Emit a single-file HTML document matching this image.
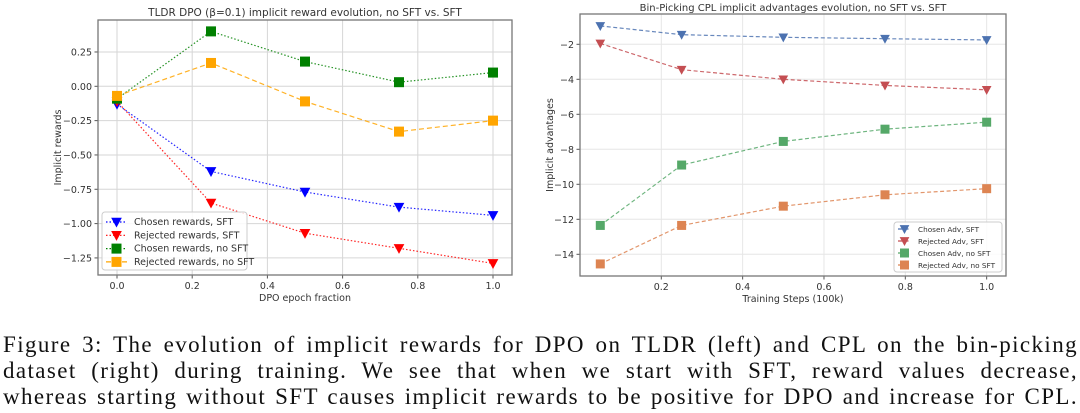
<!DOCTYPE html>
<html><head><meta charset="utf-8">
<style>
html,body{margin:0;padding:0;background:#fff;width:1080px;height:413px;overflow:hidden}
svg text{font-family:"DejaVu Sans","Liberation Sans",sans-serif;fill:#333}
.cap{position:absolute;left:3px;width:1075px;font-family:"Liberation Serif",serif;font-size:23px;letter-spacing:1.4px;color:#111;text-align:justify;text-align-last:justify;white-space:nowrap;line-height:26px}
</style></head><body>
<svg id="chart" width="1080" height="320" style="position:absolute;left:0;top:0"></svg>
<div class="cap" style="top:332px">Figure 3: The evolution of implicit rewards for DPO on TLDR (left) and CPL on the bin-picking</div>
<div class="cap" style="top:358px">dataset (right) during training. We see that when we start with SFT, reward values decrease,</div>
<div class="cap" style="top:384px">whereas starting without SFT causes implicit rewards to be positive for DPO and increase for CPL.</div>
<script>
const leftX=[0,0.25,0.5,0.75,1.0];
const leftChosenSFT=[-0.13,-0.62,-0.77,-0.88,-0.94];
const leftRejectedSFT=[-0.11,-0.85,-1.07,-1.18,-1.29];
const leftChosenNoSFT=[-0.09,0.40,0.18,0.03,0.10];
const leftRejectedNoSFT=[-0.07,0.17,-0.11,-0.33,-0.25];
const leftXTicks=[0.0,0.2,0.4,0.6,0.8,1.0];
const leftYTicks=[0.25,0.00,-0.25,-0.50,-0.75,-1.00,-1.25];
const rightX=[0.05,0.25,0.5,0.75,1.0];
const rightChosenSFT=[-0.95,-1.45,-1.6,-1.68,-1.75];
const rightRejectedSFT=[-1.95,-3.45,-4.0,-4.35,-4.6];
const rightChosenNoSFT=[-12.35,-8.9,-7.55,-6.85,-6.45];
const rightRejectedNoSFT=[-14.55,-12.35,-11.25,-10.6,-10.25];
const rightXTicks=[0.2,0.4,0.6,0.8,1.0];
const rightYTicks=[-2,-4,-6,-8,-10,-12,-14];

const svg=document.getElementById('chart');
const NS='http://www.w3.org/2000/svg';
function mk(tag,attrs,parent){const e=document.createElementNS(NS,tag);for(const k in attrs)e.setAttribute(k,attrs[k]);(parent||svg).appendChild(e);return e;}
function txt(x,y,s,size,anchor,parent){const t=mk('text',{x:x,y:y,'font-size':size,'text-anchor':anchor||'middle'},parent);t.textContent=s;return t;}
function marker(g,type,x,y,color,sz){
  if(type==='tri'){const m=mk('path',{d:`M${x-sz/2},${y-sz/2.4}L${x+sz/2},${y-sz/2.4}L${x},${y+sz/2}Z`,fill:color,stroke:color,'stroke-width':1},g);}
  else{const m=mk('rect',{x:x-sz/2,y:y-sz/2,width:sz,height:sz,fill:color,stroke:color,'stroke-width':1},g);}
}
function panel(cfg){
  const g=mk('g',{});
  
  
  const sx=v=>cfg.x0px+(v-cfg.x0)*cfg.kx;
  const sy=v=>cfg.y0px-(v-cfg.y0)*cfg.ky;
  const f=cfg.frame;
  mk('rect',{x:f[0],y:f[1],width:f[2]-f[0],height:f[3]-f[1],fill:'#fff'},g);
  cfg.xTicks.forEach(t=>{const X=sx(t);mk('line',{x1:X,x2:X,y1:f[1],y2:f[3],stroke:cfg.grid,'stroke-width':1},g);mk('line',{x1:X,x2:X,y1:f[3],y2:f[3]+3.5,stroke:'#555'},g);const l=txt(X,f[3]+14,cfg.xfmt(t),9.5,'middle',g);});
  cfg.yTicks.forEach(t=>{const Y=sy(t);mk('line',{x1:f[0],x2:f[2],y1:Y,y2:Y,stroke:cfg.grid,'stroke-width':1},g);mk('line',{x1:f[0]-3.5,x2:f[0],y1:Y,y2:Y,stroke:'#555'},g);const l=txt(f[0]-6,Y+3.5,cfg.yfmt(t),9.5,'end',g);});
  mk('rect',{x:f[0],y:f[1],width:f[2]-f[0],height:f[3]-f[1],fill:'none',stroke:'#777','stroke-width':1.3},g);
  cfg.series.forEach(s=>{
    const sg=mk('g',{},g);
    
    
    const pts=cfg.xs.map((x,i)=>sx(x)+','+sy(s.data[i])).join(' ');
    mk('polyline',{points:pts,fill:'none',stroke:s.color,'stroke-width':1.2,'stroke-dasharray':s.dash,opacity:0.85},sg);
    cfg.xs.forEach((x,i)=>marker(sg,s.m,sx(x),sy(s.data[i]),s.color,cfg.ms));
  });
  const t=txt((f[0]+f[2])/2,cfg.titleY,cfg.title,cfg.titleSize,'middle',g);
  const xl=txt((f[0]+f[2])/2,f[3]+26,cfg.xlabel,9.5,'middle',g);
  const yl=txt(0,0,cfg.ylabel,9.5,'middle',g);yl.setAttribute('transform',`translate(${cfg.ylabelX},${(f[1]+f[3])/2}) rotate(-90)`);
  const L=cfg.legend;
  const lg=mk('g',{},g);
  
  
  mk('rect',{x:L[0],y:L[1],width:L[2],height:L[3],rx:3,fill:'#fff','fill-opacity':0.85,stroke:'#ccc'},lg);
  cfg.series.forEach((s,i)=>{
    const y=L[1]+L[6]+i*L[4];
    const eg=mk('g',{},lg);
    
    
    mk('line',{x1:L[0]+4,x2:L[0]+L[7],y1:y,y2:y,stroke:s.color,'stroke-width':1.2,'stroke-dasharray':s.dash},eg);
    marker(eg,s.m,L[0]+4+(L[7]-4)/2,y,s.color,cfg.ms);
    txt(L[0]+L[7]+7,y+3,s.label,L[5],'start',eg);
  });
}
const minus=s=>s.replace('-','\u2212');
panel({name:'left-chart',frame:[98,20,512,275],x0:0,x0px:117,kx:376,y0:0,y0px:86.3,ky:137.3,
  xs:leftX,xTicks:leftXTicks,yTicks:leftYTicks,grid:'#d6d6d6',ms:9,
  xfmt:v=>v.toFixed(1),yfmt:v=>minus(v.toFixed(2)),
  title:'TLDR DPO (\u03B2=0.1) implicit reward evolution, no SFT vs. SFT',titleY:16,titleSize:10.5,
  xlabel:'DPO epoch fraction',ylabel:'Implicit rewards',ylabelX:61,
  legend:[102,212,145,58,13.3,9.5,10,25],
  series:[
    {id:'series-chosen-sft',label:'Chosen rewards, SFT',data:leftChosenSFT,color:'#0000ff',m:'tri',dash:'1.5,2'},
    {id:'series-rejected-sft',label:'Rejected rewards, SFT',data:leftRejectedSFT,color:'#ff0000',m:'tri',dash:'1.5,2'},
    {id:'series-chosen-nosft',label:'Chosen rewards, no SFT',data:leftChosenNoSFT,color:'#008000',m:'sq',dash:'1.5,2'},
    {id:'series-rejected-nosft',label:'Rejected rewards, no SFT',data:leftRejectedNoSFT,color:'#ffa500',m:'sq',dash:'5,3'}
  ]});
panel({name:'right-chart',frame:[580,14,1006,276],x0:0.2,x0px:661.3,kx:406.7,y0:-2,y0px:44.3,ky:17.5,
  xs:rightX,xTicks:rightXTicks,yTicks:rightYTicks,grid:'#e6e6e6',ms:8,
  xfmt:v=>v.toFixed(1),yfmt:v=>minus(String(v)),
  title:'Bin-Picking CPL implicit advantages evolution, no SFT vs. SFT',titleY:11,titleSize:10,
  xlabel:'Training Steps (100k)',ylabel:'Implicit advantages',ylabelX:553,
  legend:[894,222,108,50,12,7.3,7,17],
  series:[
    {id:'series-chosen-adv-sft',label:'Chosen Adv, SFT',data:rightChosenSFT,color:'#4c72b0',m:'tri',dash:'4,2.5'},
    {id:'series-rejected-adv-sft',label:'Rejected Adv, SFT',data:rightRejectedSFT,color:'#c44e52',m:'tri',dash:'4,2.5'},
    {id:'series-chosen-adv-nosft',label:'Chosen Adv, no SFT',data:rightChosenNoSFT,color:'#55a868',m:'sq',dash:'4,2.5'},
    {id:'series-rejected-adv-nosft',label:'Rejected Adv, no SFT',data:rightRejectedNoSFT,color:'#dd8452',m:'sq',dash:'4,2.5'}
  ]});
</script>
</body></html>
